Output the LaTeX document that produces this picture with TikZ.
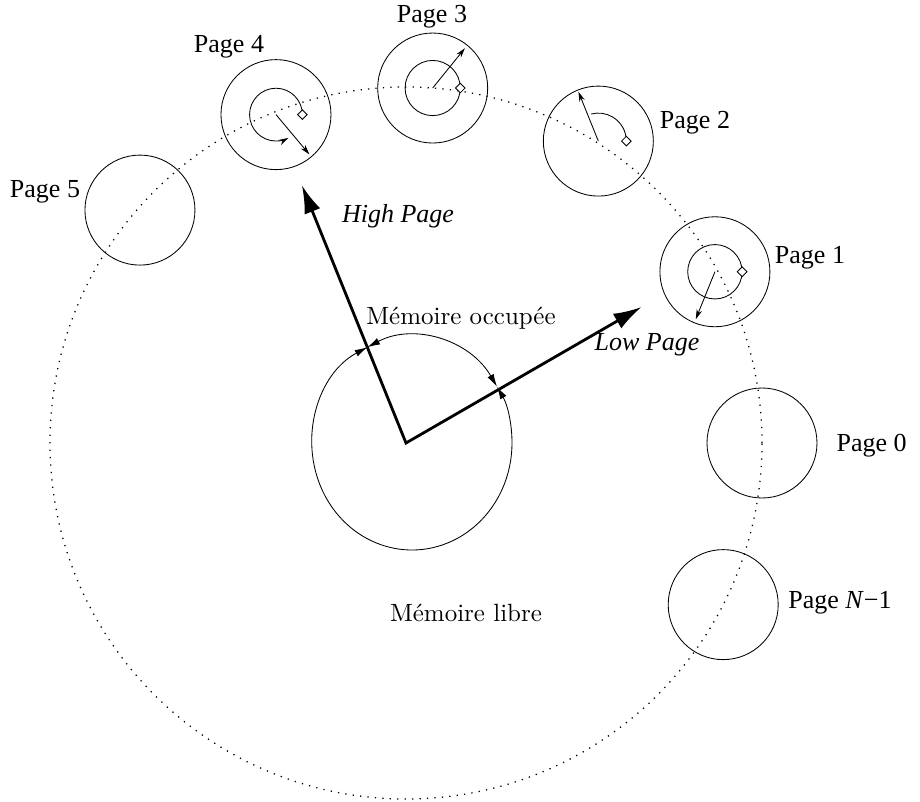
\documentclass[tikz,border=0pt]{standalone}
\usepackage{fontspec}
\newfontfamily\timesfont{Liberation Serif}
\newfontfamily\cmfont{lmroman10-regular}[Extension=.otf]
\usetikzlibrary{arrows.meta,shapes.geometric,calc}

\begin{document}
\begin{tikzpicture}[
  pagecirc/.style={draw,circle,minimum size=2.75cm,inner sep=0pt,line width=0.6pt},
  pagelabel/.style={font=\timesfont\fontsize{18.5}{20}\selectfont,inner sep=0pt},
  ptrlabel/.style={font=\timesfont\itshape\fontsize{18.5}{20}\selectfont,inner sep=0pt},
  memlabel/.style={font=\cmfont\fontsize{17.75}{20}\selectfont,inner sep=0pt},
  smallarrow/.style={line width=0.6pt,-{Stealth[length=7pt,width=4pt]}},
  marker/.style={draw,diamond,fill=white,inner sep=0pt,minimum size=0.25cm,line width=0.6pt},
  zonearc/.style={line width=0.6pt,{Latex[length=9pt,width=5pt]}-{Latex[length=9pt,width=5pt]}}
]
  \useasboundingbox (-10.15,-8.95) rectangle (12.85,11.075);
  % ring of free pages
  \draw[line width=0.9pt,dash pattern=on 0.9pt off 4.4pt] (0,0) circle (8.9);
  % pages on the ring
  \node[pagecirc] (p0) at (0:8.9) {};
  \node[pagecirc] (p1) at (29:8.83) {};
  \node[pagecirc] (p2) at (57.5:8.95) {};
  \node[pagecirc] (p3) at (85.7:8.9) {};
  \node[pagecirc] (p4) at (111.6:8.83) {};
  \node[pagecirc] (p5) at (138.8:8.84) {};
  \node[pagecirc] (pn) at (-27:8.9) {};
  % page labels
  \node[pagelabel] (lp0) at (11.64,-0.075) {Page 0};
  \node[pagelabel] (lp1) at (10.1,4.625) {Page 1};
  \node[pagelabel] (lp2) at (7.225,8.0) {Page 2};
  \node[pagelabel] (lp3) at (0.65,10.65) {Page 3};
  \node[pagelabel] (lp4) at (-4.425,9.9) {Page 4};
  \node[pagelabel] (lp5) at (-9.025,6.275) {Page 5};
  \node[pagelabel] (lpn) at (10.85,-4.0) {Page \textit{N}−1};
  % page 1
  \draw[line width=0.6pt] (p1.center) circle (0.68);
  \node[marker] (m1) at ($(p1.center)+(0.68,0)$) {};
  \draw[smallarrow] (p1.center) -- ++(248:1.28);
  % page 2
  \draw[line width=0.6pt] ($(p2.center)+(0.7,0)$) arc[start angle=0,end angle=105,radius=0.7];
  \node[marker] (m2) at ($(p2.center)+(0.7,0)$) {};
  \draw[smallarrow] (p2.center) -- ++(112:1.33);
  % page 3
  \draw[line width=0.6pt] (p3.center) circle (0.69);
  \node[marker] (m3) at ($(p3.center)+(0.69,0)$) {};
  \draw[smallarrow] (p3.center) -- ++(51:1.28);
  % page 4
  \draw[smallarrow] ($(p4.center)+(0.66,0)$) arc[start angle=0,end angle=298,radius=0.66];
  \node[marker] (m4) at ($(p4.center)+(0.66,0)$) {};
  \draw[smallarrow] (p4.center) -- ++(-50:1.3);
  % heap
  \coordinate (o) at (0,0);
  \coordinate (c) at (0.15,0);
  \coordinate (hi) at (112:6.95);
  \coordinate (lo) at (30:6.8);
  \draw[line width=2pt,{Latex[length=20pt,width=12pt]}-{Latex[length=20pt,width=12pt]}]
    (hi) -- (o) -- (lo);
  \draw[zonearc] ($(c)+(31.8:2.5 and 2.675)$) arc[start angle=31.8,end angle=116.5,x radius=2.5,y radius=2.675];
  \draw[zonearc] ($(c)+(116.5:2.5 and 2.675)$) arc[start angle=116.5,end angle=391.8,x radius=2.5,y radius=2.675];
  \node[ptrlabel] (lhi) at (-0.2,5.675) {High Page};
  \node[ptrlabel] (llo) at (6.025,2.45) {Low Page};
  \node[memlabel] (lused) at (1.375,3.125) {Mémoire occupée};
  \node[memlabel] (lfree) at (1.5,-4.25) {Mémoire libre};
\end{tikzpicture}
\end{document}
